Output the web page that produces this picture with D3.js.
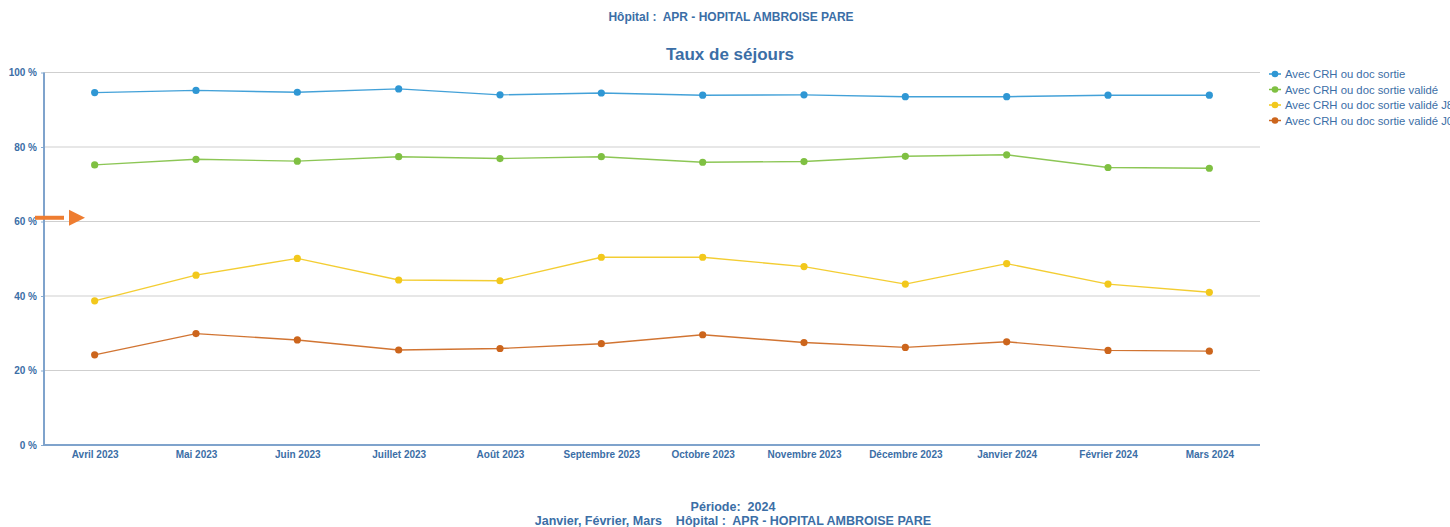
<!DOCTYPE html>
<html>
<head>
<meta charset="utf-8">
<script src="https://cdn.jsdelivr.net/npm/d3@7"></script>
<style>
  html, body { margin: 0; padding: 0; background: #fff; overflow: hidden; }
  svg { display: block; font-family: "Liberation Sans", Arial, sans-serif; }
  text { white-space: pre; }
</style>
</head>
<body>
<svg id="chart" width="1450" height="527"></svg>
<script>
// Monthly categories
const months = ["Avril 2023", "Mai 2023", "Juin 2023", "Juillet 2023", "Août 2023", "Septembre 2023",
  "Octobre 2023", "Novembre 2023", "Décembre 2023", "Janvier 2024", "Février 2024", "Mars 2024"];

// Series values (%)
const avecCrh       = [94.6, 95.2, 94.7, 95.6, 94.0, 94.5, 93.9, 94.0, 93.5, 93.5, 93.9, 93.9];
const avecCrhValide = [75.2, 76.7, 76.2, 77.4, 76.9, 77.4, 75.9, 76.1, 77.5, 77.9, 74.5, 74.3];
const avecCrhJ8     = [38.7, 45.6, 50.1, 44.3, 44.1, 50.4, 50.4, 47.9, 43.2, 48.7, 43.2, 41.0];
const avecCrhJ0     = [24.2, 29.9, 28.2, 25.5, 25.9, 27.2, 29.6, 27.5, 26.2, 27.7, 25.4, 25.2];

const seriesNames = ["Avec CRH ou doc sortie", "Avec CRH ou doc sortie validé",
  "Avec CRH ou doc sortie validé J8", "Avec CRH ou doc sortie validé J0"];
const seriesColors = ["#2f97d4", "#7fc042", "#f2c81c", "#cc651c"];
const seriesValues = [avecCrh, avecCrhValide, avecCrhJ8, avecCrhJ0];

const yTicks = [0, 20, 40, 60, 80, 100];
const targetLevel = 61;

const textColor = "#3b6ea6";
const svg = d3.select("#chart");

const plot = { left: 44, right: 1260, top: 72.5, bottom: 445 };

const x = d3.scalePoint().domain(months).range([plot.left, plot.right]).padding(0.5);
const y = d3.scaleLinear().domain([0, 100]).range([plot.bottom, plot.top]);

// Header texts
svg.append("text").attr("x", 731).attr("y", 21).attr("text-anchor", "middle")
  .attr("font-size", 12).attr("font-weight", "bold").attr("fill", textColor)
  .text("Hôpital :  APR - HOPITAL AMBROISE PARE");
svg.append("text").attr("x", 730).attr("y", 60).attr("text-anchor", "middle")
  .attr("font-size", 17).attr("font-weight", "bold").attr("fill", textColor)
  .text("Taux de séjours");

// Horizontal grid
svg.append("g").selectAll("line").data(yTicks.filter(d => d > 0)).join("line")
  .attr("x1", plot.left).attr("x2", plot.right)
  .attr("y1", d => y(d)).attr("y2", d => y(d))
  .attr("stroke", "#cfcfcf").attr("stroke-width", 1);

// Y axis
const yAxis = svg.append("g").attr("transform", `translate(${plot.left},0)`)
  .call(d3.axisLeft(y).tickValues(yTicks).tickFormat(d => d + " %").tickSize(3));
yAxis.select(".domain").remove();
yAxis.selectAll(".tick line").attr("stroke", "#8aaed3");
yAxis.selectAll("text").attr("font-size", 10).attr("font-weight", "bold")
  .attr("fill", textColor).attr("font-family", "Liberation Sans, Arial, sans-serif").attr("dx", -1);

// X axis
const xAxis = svg.append("g").attr("transform", `translate(0,${plot.bottom})`)
  .call(d3.axisBottom(x).tickSize(0).tickPadding(6));
xAxis.select(".domain").remove();
xAxis.selectAll("text").attr("font-size", 10).attr("font-weight", "bold")
  .attr("fill", textColor).attr("font-family", "Liberation Sans, Arial, sans-serif");

// Axis lines
svg.append("line").attr("x1", plot.left).attr("x2", plot.left)
  .attr("y1", plot.top).attr("y2", plot.bottom + 1)
  .attr("stroke", "#7fa3cc").attr("stroke-width", 2);
svg.append("line").attr("x1", plot.left - 1).attr("x2", plot.right)
  .attr("y1", plot.bottom).attr("y2", plot.bottom)
  .attr("stroke", "#7fa3cc").attr("stroke-width", 2);

// Series lines and markers
const line = d3.line().x((d, i) => x(months[i])).y(d => y(d));
seriesValues.forEach((vals, s) => {
  const g = svg.append("g");
  g.append("path").datum(vals).attr("d", line).attr("fill", "none")
    .attr("stroke", seriesColors[s]).attr("stroke-width", 1.4).attr("stroke-opacity", 0.9);
  g.selectAll("circle").data(vals).join("circle")
    .attr("cx", (d, i) => x(months[i])).attr("cy", d => y(d)).attr("r", 3.6)
    .attr("fill", seriesColors[s]);
});

// Target arrow
const ay = y(targetLevel);
const arrow = svg.append("g").attr("fill", "#ee7d31").attr("stroke", "none");
arrow.append("rect").attr("x", plot.left - 9).attr("y", ay - 2).attr("width", 29).attr("height", 4);
arrow.append("path").attr("d", `M${plot.left + 25},${ay - 8} L${plot.left + 41},${ay} L${plot.left + 25},${ay + 8} Z`);

// Legend
const legend = svg.append("g").attr("transform", "translate(1275,74)");
seriesNames.forEach((name, s) => {
  const row = legend.append("g").attr("transform", `translate(0,${s * 15.5})`);
  row.append("line").attr("x1", -6).attr("x2", 6).attr("y1", 0).attr("y2", 0)
    .attr("stroke", seriesColors[s]).attr("stroke-width", 1.5);
  row.append("circle").attr("cx", 0).attr("cy", 0).attr("r", 3.3).attr("fill", seriesColors[s]);
  row.append("text").attr("x", 10).attr("y", 4).attr("font-size", 11.3)
    .attr("fill", textColor).text(name);
});

// Footer
svg.append("text").attr("x", 733).attr("y", 511).attr("text-anchor", "middle")
  .attr("font-size", 12.5).attr("font-weight", "bold").attr("fill", textColor)
  .text("Période:  2024");
svg.append("text").attr("x", 733).attr("y", 525).attr("text-anchor", "middle")
  .attr("font-size", 12.5).attr("font-weight", "bold").attr("fill", textColor)
  .text("Janvier, Février, Mars    Hôpital :  APR - HOPITAL AMBROISE PARE");
</script>
</body>
</html>
